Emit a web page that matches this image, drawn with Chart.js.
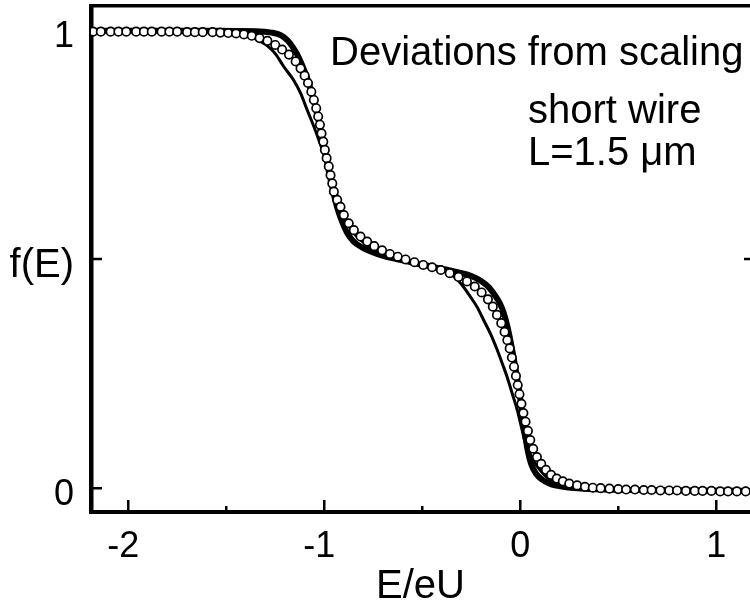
<!DOCTYPE html>
<html>
<head>
<meta charset="utf-8">
<script src="https://cdn.jsdelivr.net/npm/chart.js@4.4.0/dist/chart.umd.min.js"></script>
<style>
  html, body { margin: 0; padding: 0; background: #fff; }
  #wrap { width: 750px; height: 605px; }
</style>
</head>
<body>
<div id="wrap"><canvas id="fermiChart" width="750" height="605"></canvas></div>
<script>
// ---- axis ranges and tick labels ----
const xMin = -2.19, xMax = 1.172;
const yMin = -0.052, yMax = 1.052;
const xTicks = [-2, -1, 0, 1];
const xTickLabels = ['-2', '-1', '0', '1'];
const xMinorTicks = [-1.5, -0.5, 0.5];
const yTicks = [0, 0.5, 1];
const yTickLabels = ['0', 'f(E)', '1'];
const notes = ['Deviations from scaling', 'short wire', 'L=1.5 \u03bcm'];

// ---- open circles ----
const circleX = [-2.18, -2.14, -2.09, -2.05, -2.01, -1.96, -1.92, -1.88, -1.83, -1.79, -1.75, -1.70, -1.66, -1.62, -1.57, -1.53, -1.49, -1.45,
  -1.41, -1.37, -1.33, -1.29, -1.25, -1.215, -1.18, -1.146, -1.121, -1.100, -1.083, -1.066, -1.053, -1.041, -1.031, -1.022, -1.014,
  -1.005, -0.997, -0.988, -0.977, -0.968, -0.959, -0.951, -0.934, -0.917, -0.900, -0.875, -0.849, -0.815, -0.781, -0.745, -0.705,
  -0.665, -0.625, -0.585, -0.54, -0.495, -0.45, -0.405, -0.36, -0.315, -0.272, -0.232, -0.197, -0.165, -0.14, -0.119, -0.097, -0.080,
  -0.066, -0.054, -0.043, -0.032, -0.022, -0.013, -0.004, 0.006, 0.016, 0.027, 0.039, 0.051, 0.066, 0.085, 0.107, 0.131, 0.157, 0.186,
  0.217, 0.25, 0.29, 0.33, 0.37, 0.41, 0.455, 0.5, 0.54, 0.585, 0.63, 0.67, 0.715, 0.76, 0.8, 0.845, 0.89, 0.93, 0.975, 1.02, 1.06,
  1.105, 1.15];
const circleY = [0.996, 0.996, 0.996, 0.996, 0.996, 0.996, 0.996, 0.996, 0.996, 0.996, 0.996, 0.995, 0.995, 0.995, 0.995, 0.994, 0.993, 0.992,
  0.99, 0.987, 0.982, 0.976, 0.967, 0.957, 0.946, 0.931, 0.916, 0.900, 0.884, 0.865, 0.847, 0.829, 0.811, 0.793, 0.774,
  0.756, 0.738, 0.720, 0.702, 0.683, 0.665, 0.647, 0.629, 0.614, 0.596, 0.578, 0.563, 0.549, 0.538, 0.528, 0.519,
  0.511, 0.505, 0.499, 0.493, 0.487, 0.482, 0.476, 0.469, 0.461, 0.451, 0.44, 0.427, 0.412, 0.396, 0.378, 0.36, 0.341,
  0.323, 0.305, 0.285, 0.265, 0.245, 0.225, 0.205, 0.184, 0.164, 0.145, 0.125, 0.105, 0.086, 0.068, 0.053, 0.040, 0.029, 0.021,
  0.015, 0.010, 0.006, 0.003, 0.001, 0, -0.001, -0.002, -0.003, -0.003, -0.004, -0.004, -0.005, -0.005, -0.005, -0.006, -0.006, -0.006, -0.006, -0.007, -0.007,
  -0.007, -0.007];

// ---- thick measured curve ----
const thickX = [-2.19, -1.6, -1.35, -1.27, -1.22, -1.19, -1.165, -1.14, -1.115, -1.09, -1.068, -1.047, -1.028, -1.012, -0.996, -0.98,
  -0.962, -0.944, -0.925, -0.905, -0.882, -0.85, -0.81, -0.76, -0.7, -0.62, -0.54, -0.46, -0.38, -0.31, -0.25, -0.2, -0.16, -0.13,
  -0.105, -0.085, -0.065, -0.047, -0.03, -0.014, 0.0, 0.012, 0.024, 0.038, 0.056, 0.08, 0.11, 0.15, 0.22, 0.35, 0.6, 0.9, 1.18];
const thickY = [0.998, 0.998, 0.997, 0.994, 0.988, 0.978, 0.965, 0.948, 0.925, 0.898, 0.868, 0.835, 0.8, 0.767, 0.733, 0.698,
  0.662, 0.628, 0.6, 0.577, 0.556, 0.538, 0.526, 0.516, 0.507, 0.499, 0.491, 0.484, 0.477, 0.47, 0.463, 0.452, 0.438, 0.421,
  0.404, 0.383, 0.352, 0.315, 0.275, 0.235, 0.195, 0.155, 0.118, 0.082, 0.052, 0.032, 0.019, 0.01, 0.003, -0.002, -0.004, -0.005, -0.006];

// ---- thin curve (broader steps) ----
const thinX = [-1.6, -1.45, -1.38, -1.33, -1.29, -1.25, -1.207, -1.156, -1.121, -1.087, -1.053, -1.028, -1.003, -0.977, -0.95, -0.92,
  -0.885, -0.84, -0.78, -0.7, -0.6, -0.5, -0.42, -0.37, -0.34, -0.3, -0.255, -0.22, -0.187, -0.15, -0.119, -0.09, -0.065, -0.04,
  -0.015, 0.005, 0.025, 0.045, 0.07, 0.1, 0.14, 0.2, 0.3, 0.5, 0.8, 1.18];
const thinY = [0.997, 0.992, 0.985, 0.976, 0.965, 0.948, 0.92, 0.89, 0.862, 0.825, 0.789, 0.76, 0.73, 0.697, 0.66, 0.62,
  0.58, 0.552, 0.53, 0.513, 0.5, 0.489, 0.48, 0.472, 0.462, 0.445, 0.418, 0.395, 0.367, 0.335, 0.303, 0.27, 0.24, 0.205,
  0.17, 0.135, 0.1, 0.08, 0.058, 0.04, 0.022, 0.01, 0.002, -0.003, -0.005, -0.006];

const toPoints = (xs, ys) => xs.map((x, i) => ({ x: x, y: ys[i] }));
const family = '"Liberation Sans", Arial, Helvetica, sans-serif';

// inward ticks on the frame + the text notes
const frameDecor = {
  id: 'frameDecor',
  beforeDatasetsDraw(chart) {
    const { ctx, chartArea: a, scales: { x, y } } = chart;
    ctx.save();
    ctx.strokeStyle = '#000';
    ctx.lineWidth = 2.5;
    ctx.beginPath();
    xTicks.forEach(v => {
      const px = x.getPixelForValue(v);
      ctx.moveTo(px, a.bottom); ctx.lineTo(px, a.bottom - 12);
    });
    xMinorTicks.forEach(v => {
      const px = x.getPixelForValue(v);
      ctx.moveTo(px, a.bottom); ctx.lineTo(px, a.bottom - 6);
    });
    yTicks.forEach(v => {
      const py = y.getPixelForValue(v);
      ctx.moveTo(a.left, py); ctx.lineTo(a.left + 11, py);
    });
    // tick of the right-hand axis, which falls just outside the picture
    const pm = y.getPixelForValue(0.5);
    ctx.moveTo(a.right - 6, pm); ctx.lineTo(a.right, pm);
    ctx.stroke();
    ctx.restore();
  },
  afterDraw(chart) {
    const ctx = chart.ctx;
    ctx.save();
    ctx.fillStyle = '#000';
    ctx.font = '40px ' + family;
    ctx.textAlign = 'left';
    ctx.textBaseline = 'alphabetic';
    ctx.fillText(notes[0], 330, 65);
    ctx.fillText(notes[1], 528, 123);
    ctx.fillText(notes[2], 528, 165);
    ctx.restore();
  }
};

new Chart(document.getElementById('fermiChart'), {
  type: 'scatter',
  data: {
    datasets: [
      { label: 'model', data: toPoints(circleX, circleY), showLine: false, order: 0,
        pointRadius: 4.2, pointBorderWidth: 1.7, pointBackgroundColor: '#fff', pointBorderColor: '#000' },
      { label: 'measured', data: toPoints(thickX, thickY), showLine: true, order: 1,
        borderColor: '#000', borderWidth: 6, pointRadius: 0, cubicInterpolationMode: 'monotone' },
      { label: 'other', data: toPoints(thinX, thinY), showLine: true, order: 2,
        borderColor: '#000', borderWidth: 3, pointRadius: 0, cubicInterpolationMode: 'monotone' }
    ]
  },
  options: {
    responsive: false,
    animation: false,
    layout: { padding: 0, autoPadding: false },
    plugins: { legend: { display: false }, tooltip: { enabled: false } },
    scales: {
      x: {
        type: 'linear', position: 'bottom', min: xMin, max: xMax,
        afterBuildTicks: s => { s.ticks = xTicks.map(v => ({ value: v })); },
        afterFit: s => { s.height = 93; s.paddingLeft = 0; s.paddingRight = 0; },
        grid: { display: false, drawTicks: false },
        border: { display: true, color: '#000', width: 4 },
        ticks: {
          color: '#000', font: { family: family, size: 36 }, padding: 13,
          maxRotation: 0, autoSkip: false,
          callback: (v, i) => xTickLabels[i] + (v < 0 ? ' ' : '')
        },
        title: { display: true, text: 'E/eU', color: '#000', font: { family: family, size: 40, lineHeight: 0.9 }, padding: 0 }
      },
      xTop: {
        type: 'linear', position: 'top', min: xMin, max: xMax,
        afterFit: s => { s.height = 6; s.paddingLeft = 0; s.paddingRight = 0; },
        grid: { display: false, drawTicks: false },
        border: { display: true, color: '#000', width: 3.5 },
        ticks: { display: false }
      },
      y: {
        type: 'linear', position: 'left', min: yMin, max: yMax,
        afterBuildTicks: s => { s.ticks = yTicks.map(v => ({ value: v })); },
        afterFit: s => { s.width = 91; s.paddingTop = 0; s.paddingBottom = 0; },
        grid: { display: false, drawTicks: false },
        border: { display: true, color: '#000', width: 4.5 },
        ticks: {
          color: '#000', padding: 17, labelOffset: 7, autoSkip: false,
          font: c => ({ family: family, size: (c.tick && c.tick.value === 0.5) ? 40 : 36 }),
          callback: (v, i) => yTickLabels[i]
        }
      }
    }
  },
  plugins: [frameDecor]
});
</script>
</body>
</html>
